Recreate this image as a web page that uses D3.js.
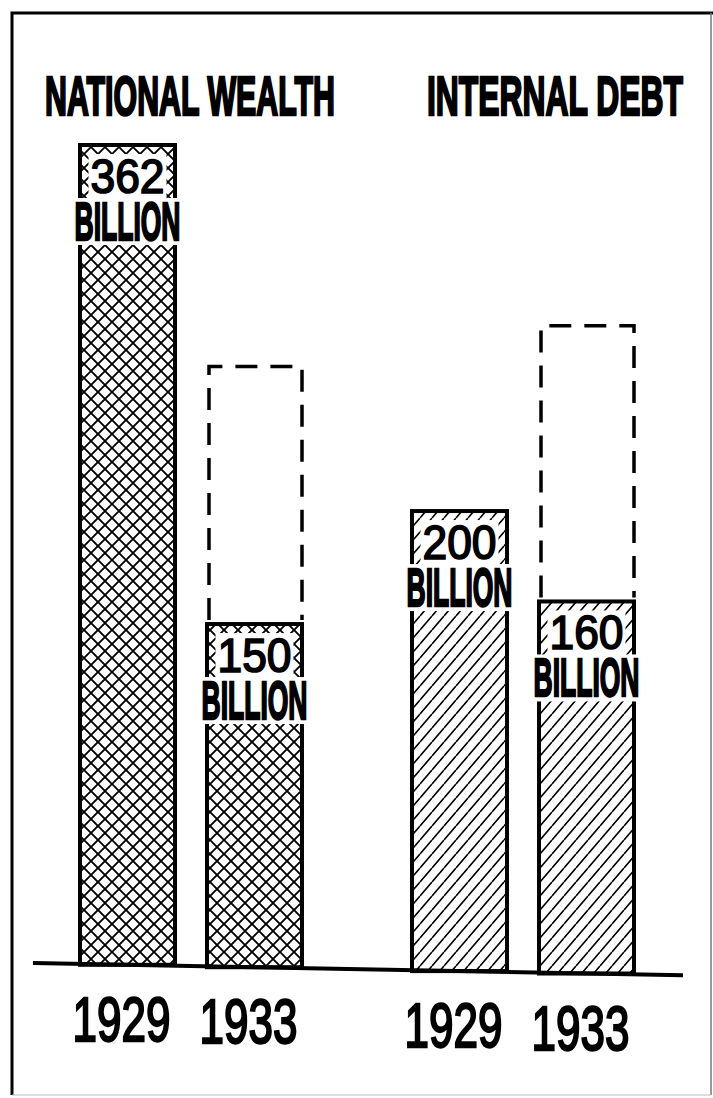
<!DOCTYPE html>
<html><head><meta charset="utf-8">
<script src="https://cdn.jsdelivr.net/npm/d3@7"></script>
<style>body{margin:0;background:#fff} svg{display:block}</style>
</head><body><svg id="c" width="713" height="1098"></svg>
<script>
// ---- data ----
const groups = ["NATIONAL WEALTH", "INTERNAL DEBT"];
const years = ["1929", "1933"];
const wealthValues = [362, 150];
const debtValues = [200, 160];
// 1933 amounts shown as dashed outlines (1929-dollar equivalents)
const wealthDashed = [null, 264];
const debtDashed = [null, 282];
const unitLabel = "BILLION";

// ---- layout ----
const W = 713, H = 1098;
const FONT = "'Liberation Sans','Arimo',Arial,sans-serif";
const CAP = 0.716;               // cap height / em for Liberation Sans
const base0 = 963;               // baseline y at left end
const tiltPerPx = 0.019;         // slight tilt of the printed baseline
const tilt = x => (x - 33) * tiltPerPx;

const svg = d3.select("#c");

const series = [
  {group: groups[0], values: wealthValues, dashed: wealthDashed, pattern: "cross"},
  {group: groups[1], values: debtValues, dashed: debtDashed, pattern: "hatch"}
];
const bars = [];
series.forEach(s => years.forEach((yr, i) => bars.push({
  group: s.group, year: yr, value: s.values[i], dashed: s.dashed[i], pattern: s.pattern
})));

const x0 = d3.scaleBand().domain(groups).range([80, 634]).paddingInner(110 / 332).paddingOuter(0);
const x1 = d3.scaleBand().domain(years).range([0, x0.bandwidth()]).paddingInner(0.252).paddingOuter(0);
const y = d3.scaleLinear().domain([0, 362]).range([base0, 145]);

// fit a condensed text: given anchor point, target width and cap height
function fitText(parent, str, x, yb, width, cap, opts = {}) {
  const t = parent.append("text")
    .attr("font-family", FONT).attr("font-weight", opts.weight || "bold")
    .attr("font-size", cap / CAP)
    .attr("text-anchor", opts.anchor || "middle")
    .attr("fill", "#000")
    .text(str);
  const natural = t.node().getComputedTextLength();
  const sx = width / natural;
  t.attr("transform", `translate(${x},${yb}) scale(${sx},1)`);
  if (opts.stroke) t.attr("stroke", "#000").attr("stroke-width", opts.stroke / sx);
  return t;
}

// ---- patterns ----
const defs = svg.append("defs");
const cs = 14;
const cross = defs.append("pattern").attr("id", "cross").attr("patternUnits", "userSpaceOnUse")
  .attr("width", cs).attr("height", cs);
cross.append("rect").attr("width", cs).attr("height", cs).attr("fill", "#fff");
cross.append("path").attr("d", `M-1,-1L${cs + 1},${cs + 1}M${cs + 1},-1L-1,${cs + 1}`)
  .attr("stroke", "#000").attr("stroke-width", 1.9);

const hw = 12, hh = 14;
const hatch = defs.append("pattern").attr("id", "hatch").attr("patternUnits", "userSpaceOnUse")
  .attr("width", hw).attr("height", hh);
hatch.append("rect").attr("width", hw).attr("height", hh).attr("fill", "#fff");
hatch.append("path").attr("d", `M0,${hh}L${hw},0M${-hw},${hh}L0,0M${hw},${hh}L${2 * hw},0`)
  .attr("stroke", "#000").attr("stroke-width", 1.6);

// ---- frame ----
svg.append("path").attr("d", `M12,${H - 3}L12,13L${W},13`).attr("fill", "none").attr("stroke", "#000").attr("stroke-width", 3);
svg.append("path").attr("d", `M${W - 2},13L${W - 2},${H - 3}`).attr("fill", "none").attr("stroke", "#777").attr("stroke-width", 1.5);
svg.append("path").attr("d", `M12,${H - 3}L${W - 2},${H - 3}`).attr("fill", "none").attr("stroke", "#bbb").attr("stroke-width", 1);

// ---- titles ----
const titleX = [45, 427], titleW = [290, 256];
groups.forEach((gname, i) =>
  fitText(svg, gname, titleX[i], 115, titleW[i], 40, {anchor: "start", stroke: 1.4}));

// ---- bars ----
const bx = d => x0(d.group) + x1(d.year);
const bw = x1.bandwidth();

const g = svg.append("g");
bars.forEach(d => {
  const X = bx(d), top = y(d.value), bottom = base0 + tilt(X + bw / 2);
  const bg = g.append("g");
  bg.append("rect").attr("x", X).attr("y", top).attr("width", bw).attr("height", bottom - top)
    .attr("fill", `url(#${d.pattern})`).attr("stroke", "#000").attr("stroke-width", 4);
  if (d.dashed != null) {
    const t2 = y(d.dashed);
    bg.append("path").attr("d", `M${X + 2},${top - 4}L${X + 2},${t2}L${X + bw},${t2}L${X + bw},${top - 4}`)
      .attr("fill", "none").attr("stroke", "#000").attr("stroke-width", 3.5)
      .attr("stroke-dasharray", "22,13");
  }
  const cx = X + bw / 2;
  const num = fitText(bg, String(d.value), cx, top + 48, 74, 34, {weight: "normal", stroke: 1.6});
  const unit = fitText(bg, unitLabel, cx, top + 95, 106, 38, {stroke: 1.2});
  const nb = num.node().getBoundingClientRect(), ub = unit.node().getBoundingClientRect();
  const capTopU = top + 95 - 38;
  bg.insert("rect", "text").attr("x", nb.x - 2).attr("y", top + 9).attr("width", nb.width + 4)
    .attr("height", capTopU - 3 - (top + 9)).attr("fill", "#fff");
  bg.insert("rect", "text").attr("x", ub.x - 1).attr("y", capTopU - 4).attr("width", ub.width + 2)
    .attr("height", 38 + 9).attr("fill", "#fff");
});

// ---- baseline ----
svg.append("line").attr("x1", 33).attr("y1", base0 + tilt(33)).attr("x2", 683).attr("y2", base0 + tilt(683))
  .attr("stroke", "#000").attr("stroke-width", 4);

// ---- year labels ----
const yg = svg.append("g");
bars.forEach(d => {
  const cx = bx(d) + bw / 2;
  fitText(yg, d.year, cx - 6, base0 + 76 + tilt(cx), 98, 45, {weight: "normal", stroke: 1.6});
});
</script></body></html>
